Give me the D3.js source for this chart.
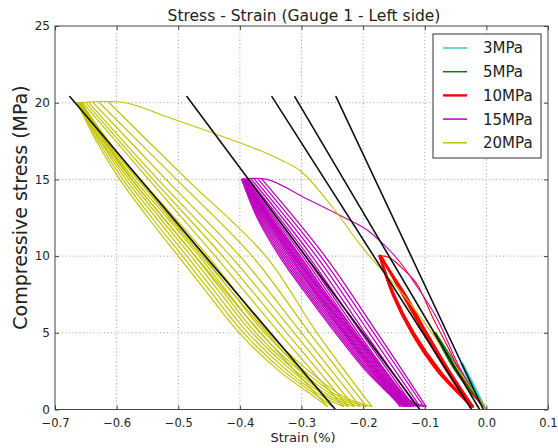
<!DOCTYPE html>
<html><head><meta charset="utf-8">
<script src="https://cdn.jsdelivr.net/npm/d3@7"></script>
<style>body{margin:0;background:#fff}svg{display:block}text{font-family:"DejaVu Sans",sans-serif;fill:#222}</style>
</head><body><svg id="c" width="558" height="448"></svg>
<script>
// ---------- data ----------
const strainTicks = [-0.7, -0.6, -0.5, -0.4, -0.3, -0.2, -0.1, 0.0, 0.1];
const stressTicks = [0, 5, 10, 15, 20, 25];
const legendLabels = ["3MPa", "5MPa", "10MPa", "15MPa", "20MPa"];
const seriesColors = ["#33c9c4", "#008000", "#ff0000", "#bf00bf", "#c2c200"];

// 3 MPa (cyan)
const cVirgin = [[0, 0], [-0.020, 1.6], [-0.038, 3]];
const cUnloadStress = [3, 1.5, 0.2];
const cUnloadStrain = [[-0.040, -0.021, -0.006], [-0.039, -0.020, -0.005]];
const cReloadStress = [0.2, 1.5, 3];
const cReloadStrain = [[-0.006, -0.024, -0.041], [-0.005, -0.023, -0.040]];

// 5 MPa (green)
const gVirgin = [[0, 0], [-0.040, 2.4], [-0.082, 5]];
const gUnloadStress = [5, 2.5, 0.2];
const gUnloadStrain = [[-0.084, -0.046, -0.006], [-0.083, -0.045, -0.005]];
const gReloadStress = [0.2, 2.5, 5];
const gReloadStrain = [[-0.006, -0.050, -0.085], [-0.005, -0.049, -0.084]];

// 10 MPa (red)
const rVirgin = [[0, 0], [-0.006, 0.3], [-0.027, 1.2], [-0.059, 3.8], [-0.087, 6.0], [-0.113, 8.2], [-0.136, 9.2], [-0.155, 9.85], [-0.165, 10], [-0.173, 10]];
const rUnloadStress = [10, 7.5, 5, 2.5, 0.2];
const rUnloadStrain = [
  [-0.173, -0.132, -0.097, -0.060, -0.022],
  [-0.172, -0.134, -0.099, -0.062, -0.024],
  [-0.171, -0.136, -0.101, -0.064, -0.026]
];
const rReloadStress = [0.2, 0.5, 2.5, 5, 7.5, 10];
const rReloadStrain = [
  [-0.022, -0.030, -0.075, -0.118, -0.150, -0.173],
  [-0.024, -0.031, -0.077, -0.120, -0.151, -0.173],
  [-0.026, -0.032, -0.079, -0.121, -0.152, -0.173]
];

// 15 MPa (magenta)
const mVirgin = [[0, 0], [-0.008, 0.4], [-0.043, 2.7], [-0.081, 6.0], [-0.119, 8.4], [-0.140, 9.6], [-0.165, 10.7], [-0.197, 11.8], [-0.235, 12.6], [-0.290, 13.7], [-0.356, 15], [-0.397, 15]];
const mUnloadStress = [15, 10, 5, 0.2];
const mUnloadStrain = [
  [-0.395, -0.318, -0.232, -0.140],
  [-0.394, -0.314, -0.228, -0.136],
  [-0.393, -0.310, -0.224, -0.133],
  [-0.392, -0.306, -0.220, -0.130],
  [-0.391, -0.302, -0.216, -0.127],
  [-0.390, -0.298, -0.212, -0.124],
  [-0.388, -0.294, -0.208, -0.122],
  [-0.385, -0.289, -0.203, -0.118],
  [-0.381, -0.283, -0.197, -0.113],
  [-0.376, -0.276, -0.190, -0.108],
  [-0.370, -0.269, -0.183, -0.102],
  [-0.364, -0.262, -0.177, -0.098]
];
const mReloadStress = [0.2, 0.6, 2.5, 5, 7.5, 10, 12.5, 15];
const mReloadStrain = [
  [-0.140, -0.148, -0.195, -0.245, -0.292, -0.336, -0.372, -0.397],
  [-0.136, -0.146, -0.192, -0.242, -0.289, -0.333, -0.370, -0.397],
  [-0.133, -0.144, -0.190, -0.239, -0.286, -0.330, -0.368, -0.396],
  [-0.130, -0.142, -0.187, -0.236, -0.283, -0.327, -0.366, -0.396],
  [-0.127, -0.140, -0.184, -0.233, -0.280, -0.324, -0.364, -0.395],
  [-0.124, -0.138, -0.181, -0.230, -0.277, -0.321, -0.362, -0.395],
  [-0.122, -0.136, -0.179, -0.227, -0.274, -0.318, -0.360, -0.394],
  [-0.118, -0.134, -0.176, -0.224, -0.271, -0.315, -0.358, -0.394],
  [-0.113, -0.132, -0.173, -0.221, -0.268, -0.312, -0.356, -0.393],
  [-0.108, -0.130, -0.170, -0.218, -0.265, -0.309, -0.354, -0.393],
  [-0.102, -0.127, -0.167, -0.215, -0.262, -0.306, -0.352, -0.392],
  [-0.098, -0.124, -0.164, -0.212, -0.259, -0.303, -0.350, -0.392]
];

// 20 MPa (yellow)
const yVirgin = [[0, 0], [-0.064, 3.6], [-0.129, 7.2], [-0.202, 10.6], [-0.250, 13.2], [-0.300, 15.5], [-0.335, 16.3], [-0.368, 16.9], [-0.449, 18.1], [-0.520, 19.1], [-0.586, 20.0], [-0.664, 20.0]];
const yUnloadStress = [20, 15, 10, 5, 0.2];
const yUnloadStrain = [
  [-0.662, -0.575, -0.472, -0.366, -0.258],
  [-0.660, -0.565, -0.462, -0.356, -0.250],
  [-0.655, -0.548, -0.440, -0.336, -0.232],
  [-0.650, -0.541, -0.428, -0.324, -0.224],
  [-0.645, -0.533, -0.415, -0.312, -0.215],
  [-0.638, -0.520, -0.400, -0.300, -0.205],
  [-0.628, -0.503, -0.380, -0.287, -0.195],
  [-0.612, -0.486, -0.358, -0.275, -0.186]
];
const yReloadStress = [0.2, 0.8, 2.5, 5, 7.5, 10, 12.5, 15, 17.5, 20];
const yReloadStrain = [
  [-0.258, -0.278, -0.336, -0.401, -0.451, -0.500, -0.549, -0.595, -0.633, -0.664],
  [-0.250, -0.271, -0.329, -0.394, -0.444, -0.493, -0.543, -0.590, -0.630, -0.663],
  [-0.232, -0.264, -0.322, -0.387, -0.437, -0.486, -0.536, -0.585, -0.627, -0.662],
  [-0.224, -0.257, -0.315, -0.380, -0.430, -0.479, -0.530, -0.580, -0.625, -0.661],
  [-0.215, -0.251, -0.309, -0.374, -0.424, -0.473, -0.524, -0.576, -0.622, -0.660],
  [-0.205, -0.244, -0.302, -0.367, -0.417, -0.466, -0.518, -0.571, -0.619, -0.659],
  [-0.195, -0.237, -0.295, -0.360, -0.410, -0.459, -0.512, -0.566, -0.617, -0.658],
  [-0.186, -0.230, -0.288, -0.353, -0.403, -0.452, -0.506, -0.561, -0.614, -0.657]
];

// black reference (elastic) lines
const refLines = [
  [[-0.676, 20.4], [-0.245, 0]],
  [[-0.486, 20.4], [-0.108, 0]],
  [[-0.348, 20.4], [-0.024, 0]],
  [[-0.311, 20.4], [-0.011, 0]],
  [[-0.244, 20.4], [-0.005, 0]]
];

// ---------- drawing ----------
const svg = d3.select("#c");
const L = 55, R = 548, T = 26, B = 409.5;
const x = d3.scaleLinear().domain([-0.7, 0.1]).range([L, R]);
const y = d3.scaleLinear().domain([0, 25]).range([B, T]);

svg.append("defs").append("clipPath").attr("id", "clip")
  .append("rect").attr("x", L).attr("y", T).attr("width", R - L).attr("height", B - T);

// grid
const grid = svg.append("g").attr("stroke", "#8a8a8a").attr("stroke-width", 0.8).attr("stroke-dasharray", "1,2.5");
grid.selectAll("line.v").data(strainTicks.slice(1, -1)).join("line")
  .attr("x1", d => x(d)).attr("x2", d => x(d)).attr("y1", T).attr("y2", B);
grid.selectAll("line.h").data(stressTicks.slice(1, -1)).join("line")
  .attr("x1", L).attr("x2", R).attr("y1", d => y(d)).attr("y2", d => y(d));

const line = d3.line().x(d => x(d[0])).y(d => y(d[1])).curve(d3.curveCatmullRom.alpha(0.5));
const straight = d3.line().x(d => x(d[0])).y(d => y(d[1]));
const plot = svg.append("g").attr("clip-path", "url(#clip)").attr("fill", "none")
  .attr("stroke-linejoin", "round").attr("stroke-linecap", "round");

function pair(stressArr, strainRows) {
  return strainRows.map(row => row.map((s, i) => [s, stressArr[i]]));
}
function drawSeries(color, width, virgin, us, uS, rs, rS) {
  const g = plot.append("g").attr("stroke", color);
  g.selectAll("path.u").data(pair(us, uS)).join("path").attr("d", line).attr("stroke-width", width);
  g.selectAll("path.r").data(pair(rs, rS)).join("path").attr("d", line).attr("stroke-width", width);
  g.append("path").datum(virgin).attr("d", line).attr("stroke-width", 1.1);
}
drawSeries(seriesColors[0], 1.5, cVirgin, cUnloadStress, cUnloadStrain, cReloadStress, cReloadStrain);
drawSeries(seriesColors[1], 1.5, gVirgin, gUnloadStress, gUnloadStrain, gReloadStress, gReloadStrain);
drawSeries(seriesColors[2], 2.4, rVirgin, rUnloadStress, rUnloadStrain, rReloadStress, rReloadStrain);
drawSeries(seriesColors[3], 1.3, mVirgin, mUnloadStress, mUnloadStrain, mReloadStress, mReloadStrain);
drawSeries(seriesColors[4], 1.2, yVirgin, yUnloadStress, yUnloadStrain, yReloadStress, yReloadStrain);

plot.append("g").attr("stroke", "#111").attr("stroke-width", 1.6)
  .selectAll("path").data(refLines).join("path").attr("d", straight);

// axes
const fmtX = d3.format(".1f");
const axB = svg.append("g").attr("transform", `translate(0,${B})`)
  .call(d3.axisBottom(x).tickValues(strainTicks).tickFormat(fmtX).tickSize(-4).tickPadding(9.5));
const axL = svg.append("g").attr("transform", `translate(${L},0)`)
  .call(d3.axisLeft(y).tickValues(stressTicks).tickFormat(d3.format("d")).tickSize(-4).tickPadding(5));
const axT = svg.append("g").attr("transform", `translate(0,${T})`)
  .call(d3.axisTop(x).tickValues(strainTicks).tickFormat("").tickSize(-4));
const axR = svg.append("g").attr("transform", `translate(${R},0)`)
  .call(d3.axisRight(y).tickValues(stressTicks).tickFormat("").tickSize(-4));
[axB, axL, axT, axR].forEach(a => {
  a.select(".domain").remove();
  a.selectAll(".tick line").attr("stroke", "#444");
  a.selectAll("text").attr("font-family", "DejaVu Sans").attr("fill", "#222");
});
axB.selectAll("text").attr("font-size", 11.5);
axL.selectAll("text").attr("font-size", 12).attr("dy", "0.3em");
svg.append("rect").attr("x", L).attr("y", T).attr("width", R - L).attr("height", B - T)
  .attr("fill", "none").attr("stroke", "#444").attr("stroke-width", 1);

// titles
svg.append("text").attr("x", 304).attr("y", 21).attr("text-anchor", "middle")
  .attr("font-size", 15.5).text("Stress - Strain (Gauge 1 - Left side)");
svg.append("text").attr("x", 303).attr("y", 442).attr("text-anchor", "middle")
  .attr("font-size", 13).text("Strain (%)");
svg.append("text").attr("transform", "translate(27,207.5) rotate(-90)").attr("text-anchor", "middle")
  .attr("font-size", 19).text("Compressive stress (MPa)");

// legend
const lg = svg.append("g");
lg.append("rect").attr("x", 433).attr("y", 34).attr("width", 108).attr("height", 124)
  .attr("fill", "#fff").attr("stroke", "#333").attr("stroke-width", 1);
const legendWidths = [1.5, 1.5, 2.4, 1.5, 1.5];
const rows = lg.selectAll("g.row").data(legendLabels).join("g")
  .attr("transform", (d, i) => `translate(0,${48 + i * 23.7})`);
rows.append("line").attr("x1", 443).attr("x2", 467).attr("y1", 0).attr("y2", 0)
  .attr("stroke", (d, i) => seriesColors[i]).attr("stroke-width", (d, i) => legendWidths[i]);
rows.append("text").attr("x", 483).attr("y", 0).attr("dy", "0.36em").attr("font-size", 15).text(d => d);
</script></body></html>
